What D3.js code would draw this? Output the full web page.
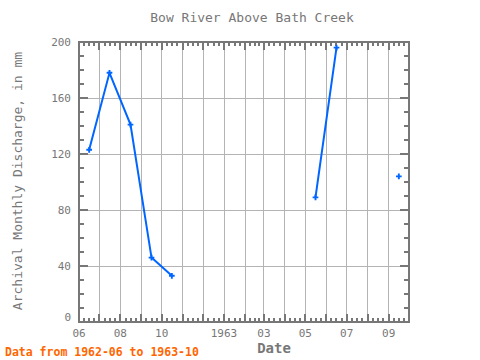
<!DOCTYPE html>
<html><head><meta charset="utf-8">
<script src="https://cdn.jsdelivr.net/npm/d3@7"></script>
<style>body{margin:0;background:#fff}svg{display:block}</style>
</head><body>
<script>
const months = ["1962-06","1962-07","1962-08","1962-09","1962-10","1962-11","1962-12","1963-01","1963-02","1963-03","1963-04","1963-05","1963-06","1963-07","1963-08","1963-09","1963-10"];
const discharge = [123, 178, 141, 46, 33, null, null, null, null, null, null, 89, 196, null, null, 104, null];
const yTicks = [0, 40, 80, 120, 160, 200];
const xTickMonths = ["1962-06","1962-08","1962-10","1963-01","1963-03","1963-05","1963-07","1963-09"];
const xTickLabels = ["06","08","10","1963","03","05","07","09"];

const W = 480, H = 360;
const m = {left: 79, right: 409, top: 42, bottom: 322};
const parse = d3.timeParse("%Y-%m");
const data = months.map((s, i) => {
  const d = parse(s);
  const mid = new Date(d.getFullYear(), d.getMonth(), 16);
  return {date: mid, value: discharge[i]};
});
const x = d3.scaleTime().domain([new Date(1962,5,1), new Date(1963,9,1)]).range([m.left, m.right]);
const y = d3.scaleLinear().domain([0, 200]).range([m.bottom, m.top]);
const svg = d3.select("body").append("svg").attr("width", W).attr("height", H);
const gray = "#777", grid = "#b4b4b4", font = "DejaVu Sans Mono, monospace";

const monthTicks = d3.timeMonth.range(new Date(1962,5,1), new Date(1963,9,2));
// gridlines
svg.append("g").selectAll("line").data(monthTicks.slice(1, -1)).join("line")
  .attr("x1", d => x(d)).attr("x2", d => x(d)).attr("y1", m.top).attr("y2", m.bottom)
  .attr("stroke", grid).attr("stroke-width", 1).attr("shape-rendering", "crispEdges");
svg.append("g").selectAll("line").data(yTicks.slice(1, -1)).join("line")
  .attr("x1", m.left).attr("x2", m.right).attr("y1", d => y(d)).attr("y2", d => y(d))
  .attr("stroke", grid).attr("stroke-width", 1).attr("shape-rendering", "crispEdges");

// minor x ticks
const minor = [];
monthTicks.slice(0, -1).forEach(d => {
  const n = d3.timeMonth.offset(d, 1);
  for (let k = 1; k < 4; k++) minor.push(new Date(+d + (n - d) * k / 4));
});
const tg = svg.append("g").attr("stroke", gray).attr("shape-rendering", "crispEdges");
[[m.bottom, -1], [m.top, 1]].forEach(([yy, dir]) => {
  tg.append("g").selectAll("line").data(monthTicks).join("line")
    .attr("x1", d => x(d)).attr("x2", d => x(d)).attr("y1", yy).attr("y2", yy + dir * 8).attr("stroke-width", 2);
  tg.append("g").selectAll("line").data(minor).join("line")
    .attr("x1", d => x(d)).attr("x2", d => x(d)).attr("y1", yy).attr("y2", yy + dir * 4).attr("stroke-width", 2);
});
const yMinor = d3.range(0, 201, 10);
[[m.left, 1], [m.right, -1]].forEach(([xx, dir]) => {
  tg.append("g").selectAll("line").data(yMinor).join("line")
    .attr("y1", d => y(d)).attr("y2", d => y(d)).attr("x1", xx)
    .attr("x2", d => xx + dir * (d % 40 === 0 ? 9 : 5)).attr("stroke-width", 2);
});
// frame
svg.append("rect").attr("x", m.left).attr("y", m.top).attr("width", m.right - m.left).attr("height", m.bottom - m.top)
  .attr("fill", "none").attr("stroke", gray).attr("stroke-width", 2).attr("shape-rendering", "crispEdges");

// y labels
svg.append("g").selectAll("text").data(yTicks).join("text")
  .attr("x", m.left - 8).attr("y", d => y(d) + (d === 0 ? -1 : 4))
  .attr("text-anchor", "end").attr("font-family", font).attr("font-size", 11).attr("fill", gray).text(d => d);
// x labels
svg.append("g").selectAll("text").data(xTickMonths).join("text")
  .attr("x", d => x(parse(d))).attr("y", 337).attr("text-anchor", "middle")
  .attr("font-family", font).attr("font-size", 11).attr("fill", gray).text((d, i) => xTickLabels[i]);

// line
const line = d3.line().defined(d => d.value !== null).x(d => x(d.date)).y(d => y(d.value));
svg.append("path").datum(data).attr("d", line).attr("fill", "none").attr("stroke", "#0066ff").attr("stroke-width", 2);
svg.append("g").selectAll("path").data(data.filter(d => d.value !== null)).join("path")
  .attr("d", d3.symbol(d3.symbolCross, 18)).attr("transform", d => `translate(${x(d.date)},${y(d.value)})`)
  .attr("fill", "#0066ff");

// titles
svg.append("text").attr("x", 252).attr("y", 22).attr("text-anchor", "middle")
  .attr("font-family", font).attr("font-size", 13).attr("fill", gray).text("Bow River Above Bath Creek");
svg.append("text").attr("transform", "translate(22,181) rotate(-90)").attr("text-anchor", "middle")
  .attr("font-family", font).attr("font-size", 13).attr("fill", gray).text("Archival Monthly Discharge, in mm");
svg.append("text").attr("x", 274).attr("y", 353).attr("text-anchor", "middle")
  .attr("font-family", font).attr("font-size", 14).attr("font-weight", "bold").attr("fill", gray).text("Date");
svg.append("text").attr("x", 5).attr("y", 356)
  .attr("font-family", font).attr("font-size", 11.5).attr("font-weight", "bold").attr("fill", "#ff6600").text("Data from 1962-06 to 1963-10");
</script>
</body></html>
